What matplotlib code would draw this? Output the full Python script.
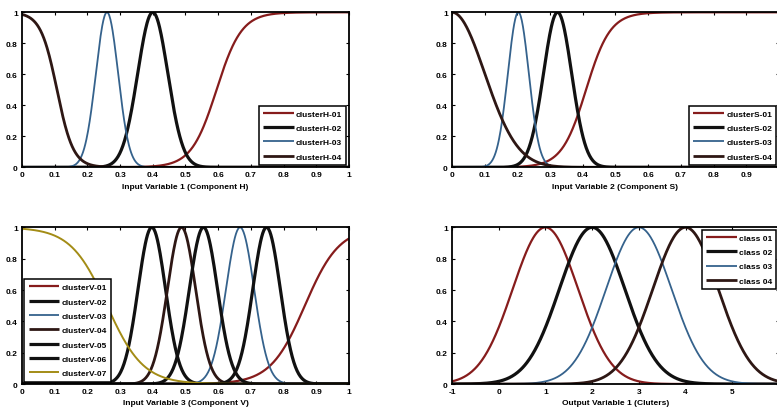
import numpy as np
import matplotlib
matplotlib.use("Agg")
import matplotlib.pyplot as plt

plt.rcParams['font.family'] = ['Liberation Sans', 'DejaVu Sans']
plt.rcParams['font.weight'] = 'bold'
plt.rcParams['font.size'] = 6

# membership functions: kind, centre, width (gauss sigma) or slope (sigmoid)
h_labels = ['clusterH-01', 'clusterH-02', 'clusterH-03', 'clusterH-04']
h_kind = ['sig', 'gauss', 'gauss', 'sig']
h_centre = [0.595, 0.40, 0.26, 0.107]
h_width = [26, 0.046, 0.034, -40]

s_labels = ['clusterS-01', 'clusterS-02', 'clusterS-03', 'clusterS-04']
s_kind = ['sig', 'gauss', 'gauss', 'gauss']
s_centre = [0.41, 0.323, 0.203, 0.0]
s_width = [27, 0.043, 0.032, 0.10]

v_labels = ['clusterV-01', 'clusterV-02', 'clusterV-03', 'clusterV-04',
            'clusterV-05', 'clusterV-06', 'clusterV-07']
v_kind = ['sig', 'gauss', 'gauss', 'gauss', 'gauss', 'gauss', 'sig']
v_centre = [0.865, 0.397, 0.667, 0.488, 0.555, 0.748, 0.26]
v_width = [19, 0.042, 0.043, 0.043, 0.043, 0.042, -18]

c_labels = ['class 01', 'class 02', 'class 03', 'class 04']
c_kind = ['gauss', 'gauss', 'gauss', 'gauss']
c_centre = [1, 2, 3, 4]
c_width = [0.7, 0.7, 0.7, 0.7]

x_ticks_in = [0, 0.1, 0.2, 0.3, 0.4, 0.5, 0.6, 0.7, 0.8, 0.9, 1]
x_ticks_out = [-1, 0, 1, 2, 3, 4, 5, 6]
y_ticks = [0, 0.2, 0.4, 0.6, 0.8, 1]

RED = '#861c1c'
BLK = '#111111'
BLUE = '#35628c'
BRN = '#2e1714'
OLIVE = '#a38c16'


def mf(x, kind, c, w):
    if kind == 'gauss':
        return np.exp(-(x - c) ** 2 / (2 * w ** 2))
    return 1 / (1 + np.exp(-w * (x - c)))


def panel(ax, labels, kind, centre, width, styles, xlim, xticks, xlabel,
          legloc, hide_last=False):
    x = np.linspace(xlim[0], xlim[1], 600)
    for lab, k, c, w, st in zip(labels, kind, centre, width, styles):
        ax.plot(x, mf(x, k, c, w), color=st[0], lw=st[1], label=lab,
                solid_capstyle='butt')
    ax.set_xlim(*xlim)
    ax.set_ylim(0, 1)
    ax.set_xticks(xticks)
    lbls = ['%g' % t for t in xticks]
    if hide_last:
        lbls[-1] = ''
    ax.set_xticklabels(lbls)
    ax.set_yticks(y_ticks)
    ax.set_yticklabels(['%g' % t for t in y_ticks])
    ax.tick_params(direction='in', length=2.5, width=0.8, top=True, right=True,
                   labelsize=6, pad=3)
    for sp in ax.spines.values():
        sp.set_linewidth(1.3)
    ax.set_xlabel(xlabel, fontsize=6, fontweight='bold', labelpad=3)
    leg = ax.legend(loc=legloc, fontsize=6, handlelength=3.7, handletextpad=0.25,
                    labelspacing=0.78, borderpad=0.5, borderaxespad=0.3,
                    fancybox=False, framealpha=1, edgecolor='black')
    leg.get_frame().set_linewidth(1.1)


fig = plt.figure(figsize=(7.77, 4.14), dpi=100)
ax1 = fig.add_axes([0.0283, 0.5935, 0.4208, 0.3744])
ax2 = fig.add_axes([0.5817, 0.5935, 0.4208, 0.3744])
ax3 = fig.add_axes([0.0283, 0.0700, 0.4208, 0.3785])
ax4 = fig.add_axes([0.5817, 0.0700, 0.4208, 0.3785])

panel(ax1, h_labels, h_kind, h_centre, h_width,
      [(RED, 1.6), (BLK, 2.3), (BLUE, 1.3), (BRN, 2.0)],
      (0, 1), x_ticks_in, 'Input Variable 1 (Component H)', 'lower right')
panel(ax2, s_labels, s_kind, s_centre, s_width,
      [(RED, 1.6), (BLK, 2.3), (BLUE, 1.3), (BRN, 2.0)],
      (0, 1), x_ticks_in, 'Input Variable 2 (Component S)', 'lower right', True)
panel(ax3, v_labels, v_kind, v_centre, v_width,
      [(RED, 1.6), (BLK, 2.3), (BLUE, 1.3), (BRN, 2.0), (BLK, 2.3), (BLK, 2.3), (OLIVE, 1.4)],
      (0, 1), x_ticks_in, 'Input Variable 3 (Component V)', 'lower left')
panel(ax4, c_labels, c_kind, c_centre, c_width,
      [(RED, 1.6), (BLK, 2.3), (BLUE, 1.3), (BRN, 2.0)],
      (-1, 6), x_ticks_out, 'Output Variable 1 (Cluters)', 'upper right', True)

fig.savefig('out.png', dpi=100)
